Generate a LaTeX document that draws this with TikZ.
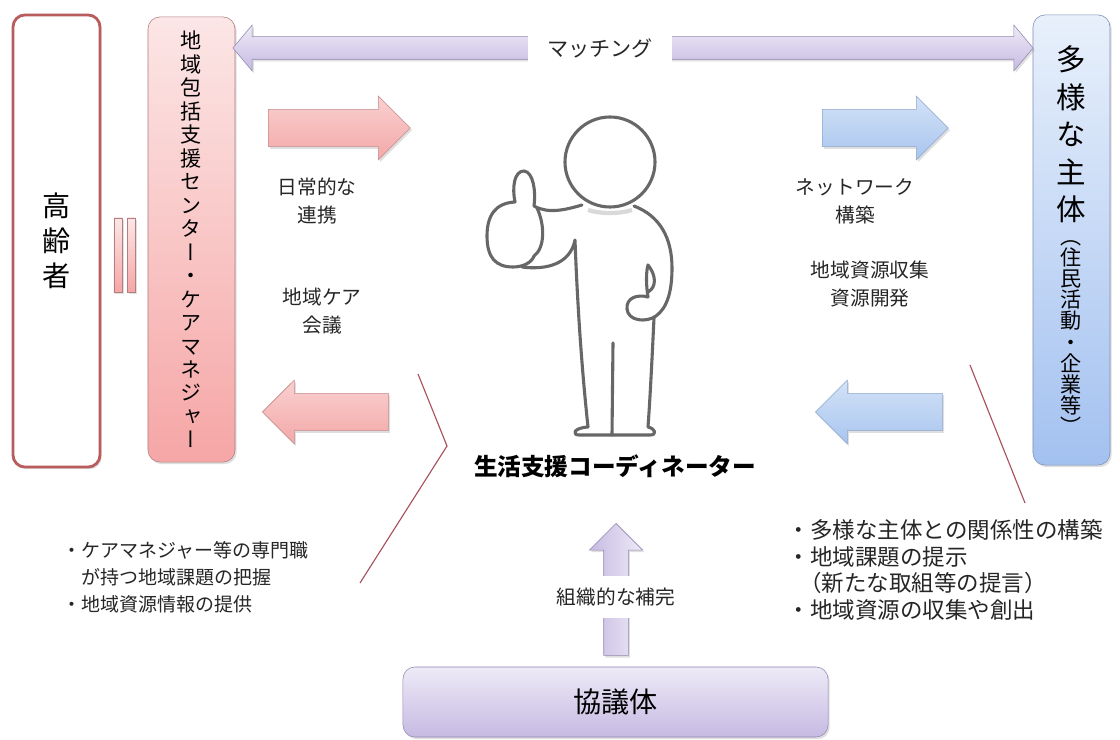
\documentclass[tikz,border=0pt]{standalone}
\usepackage{fontspec}
\setmainfont{Noto Sans CJK JP}
\newfontfamily\tatefont[RawFeature=+vert]{Noto Sans CJK JP}
\usetikzlibrary{shapes.arrows,shadows}

\definecolor{elderline}{HTML}{B85C5C}
\definecolor{pinkline}{HTML}{B08080}
\definecolor{pinktop}{HTML}{FCE6E6}
\definecolor{pinkbot}{HTML}{F6A6A6}
\definecolor{redline}{HTML}{C48A8A}
\definecolor{redtop}{HTML}{FAD0D0}
\definecolor{redbot}{HTML}{F3A8A8}
\definecolor{blueline}{HTML}{7F90B5}
\definecolor{bluetop}{HTML}{E8F0FB}
\definecolor{bluebot}{HTML}{A3C1F0}
\definecolor{barrowline}{HTML}{8EA6CC}
\definecolor{barrowtop}{HTML}{D3E2F7}
\definecolor{barrowbot}{HTML}{A8C5EE}
\definecolor{purpline}{HTML}{9388B0}
\definecolor{purptop}{HTML}{EEEAF7}
\definecolor{purpbot}{HTML}{C6BAE2}
\definecolor{figgray}{HTML}{676767}
\definecolor{calloutred}{HTML}{A8505E}

% stack characters one below the other
\makeatletter
\newcommand\tate[1]{\vbox{\tatefont\lineskiplimit=-\maxdimen
  \@tfor\tate@c:=#1\do{\hbox to 30pt{\hss\tate@c\hss}}}}
\newcommand\tatechars[1]{\@tfor\tate@c:=#1\do{\hbox to 30pt{\hss\tate@c\hss}}}
\makeatother

\begin{document}
\begin{tikzpicture}[x=0.025cm,y=-0.025cm,
    tall/.style={draw,rounded corners=0.3cm,minimum width=2.175cm,inner sep=0pt},
    soft/.style={drop shadow={opacity=0.25,shadow xshift=1.2pt,shadow yshift=-1.5pt}},
    pinkfill/.style={top color=pinktop,bottom color=pinkbot},
    bluefill/.style={top color=bluetop,bottom color=bluebot},
    purpfill/.style={top color=purptop,bottom color=purpbot},
    blockarrow/.style={single arrow,inner xsep=0pt,single arrow tip angle=90,soft},
    redarrow/.style={blockarrow,draw=redline,top color=redtop,bottom color=redbot,
      inner ysep=0.46cm,single arrow head extend=0.33cm},
    bluearrow/.style={blockarrow,draw=barrowline,top color=barrowtop,bottom color=barrowbot,
      inner ysep=0.46cm,single arrow head extend=0.33cm},
    bar/.style={draw=pinkline,pinkfill,minimum width=0.21cm,minimum height=1.85cm,inner sep=0pt,soft},
    note/.style={font=\fontsize{14}{20}\selectfont,align=center,text=black!85},
    callout/.style={calloutred,line width=0.8pt},
    body/.style={figgray,line width=2.2pt,line cap=round,line join=round}]

  \path[use as bounding box,fill=white] (0,0) rectangle (1120,740);

  \node[tall,draw=elderline,line width=2pt,fill=white,minimum height=11.3cm,soft] (elder)
    at (56.5,241) {\fontsize{20}{24.9}\selectfont\tate{高齢者}};
  \node[bar] (eqa) at (118,255) {};
  \node[bar] (eqb) at (131.5,255) {};
  \node[tall,draw=pinkline,pinkfill,minimum height=11.125cm,soft] (hub)
    at (191.5,239.5) {\fontsize{15}{16.7}\selectfont\tate{地域包括支援センター・ケアマネジャー}};
  \node[tall,draw=blueline,bluefill,minimum width=1.925cm,minimum height=11.25cm,soft] (actors)
    at (1071.5,240) {\vbox{\tatefont\lineskiplimit=-\maxdimen
      \fontsize{21}{26.7}\selectfont\tatechars{多様な主体}\vskip 2pt
      \fontsize{15}{15}\selectfont\tatechars{（住民活動・企業等）}}};
  \node[draw=purpline,purpfill,rounded corners=0.3cm,minimum width=10.625cm,minimum height=1.75cm,
    soft,font=\fontsize{20}{24}\selectfont] (council) at (615.5,702) {協議体};

  \node[double arrow,draw=purpline,purpfill,soft,inner xsep=0pt,inner ysep=0.275cm,
    double arrow head extend=0.29cm,double arrow tip angle=100,minimum height=20cm] (match) at (633,48) {};
  \node[note,fill=white,font=\fontsize{15}{20}\selectfont,minimum width=3.6cm,minimum height=1.3cm]
    (matchtext) at (600,48) {マッチング};

  \node[redarrow,minimum height=3.55cm,anchor=tail] (dailyarrow) at (268,128) {};
  \node[redarrow,shape border rotate=180,minimum height=3.15cm,anchor=tip] (carearrow) at (262,412) {};
  \node[bluearrow,minimum height=3.15cm,anchor=tail] (netarrow) at (822,128) {};
  \node[bluearrow,shape border rotate=180,minimum height=3.175cm,anchor=tip] (resarrow) at (815,412) {};
  \node[blockarrow,rotate=90,draw=purpline,left color=purpbot,right color=purptop,
    inner ysep=0.3cm,single arrow head extend=0.36cm,minimum height=3.3cm,anchor=tip] (support) at (616,523) {};
  \node[note,fill=white,inner ysep=0.3cm] (supporttext) at (616,597) {組織的な補完};

  \node[note] (dailytext) at (317,201) {日常的な\\連携};
  \node[note] (caretext) at (322,311) {地域ケア\\会議};
  \node[note] (nettext) at (855,201) {ネットワーク\\構築};
  \node[note] (restext) at (870,284) {地域資源収集\\資源開発};

  \draw[gray!30,line width=3pt] (588,210) .. controls (600,214) and (620,214) .. (632,210);
  \draw[body] (610,162) circle[radius=45];
  \draw[body] (582,205) .. controls (565,210) and (548,214) .. (534,206)
    .. controls (536,190) and (533,172) .. (524,171)
    .. controls (514,171) and (512,188) .. (515,202)
    .. controls (495,203) and (487,216) .. (487,236)
    .. controls (487,258) and (496,267) .. (513,267)
    .. controls (524,267) and (532,262) .. (534,256);
  \draw[body] (537,208) .. controls (545,225) and (545,248) .. (534,256);
  \draw[body] (522,267) .. controls (545,270) and (570,265) .. (575,240)
    .. controls (578,320) and (583,380) .. (588,427);
  \draw[body] (634,206) .. controls (660,216) and (672,238) .. (672,268)
    .. controls (672,292) and (667,308) .. (656,316)
    .. controls (646,323) and (628,321) .. (627,309)
    .. controls (626,298) and (637,294) .. (648,297);
  \draw[body] (648,297) .. controls (646,285) and (646,272) .. (648,265)
    .. controls (656,275) and (657,287) .. (648,292);
  \draw[body] (654,318) .. controls (652,360) and (650,400) .. (648,427)
    .. controls (656,429) and (657,435) .. (650,435) -- (579,435)
    .. controls (572,435) and (573,428) .. (588,427);
  \draw[body] (613,343) -- (612,435);
  \node[font=\bfseries\fontsize{16.8}{20}\selectfont] (coordinator) at (615,466) {生活支援コーディネーター};

  \node[anchor=west,align=left,font=\fontsize{13.5}{19.2}\selectfont,text=black!85] (leftnotes) at (58,577)
    {・ケアマネジャー等の専門職\\\hspace{1em}が持つ地域課題の把握\\・地域資源情報の提供};
  \node[anchor=west,align=left,font=\fontsize{16}{19}\selectfont,text=black!85] (rightnotes) at (783,570)
    {・多様な主体との関係性の構築\\・地域課題の提示\\\hspace{0.5em}（新たな取組等の提言）\\・地域資源の収集や創出};

  \coordinate (la) at (418,374);
  \coordinate (lb) at (447,446);
  \coordinate (lc) at (360,583);
  \coordinate (ra) at (970,365);
  \coordinate (rb) at (1025,503);
  \draw[callout] (la) -- (lb) -- (lc);
  \draw[callout] (ra) -- (rb);
\end{tikzpicture}
\end{document}
